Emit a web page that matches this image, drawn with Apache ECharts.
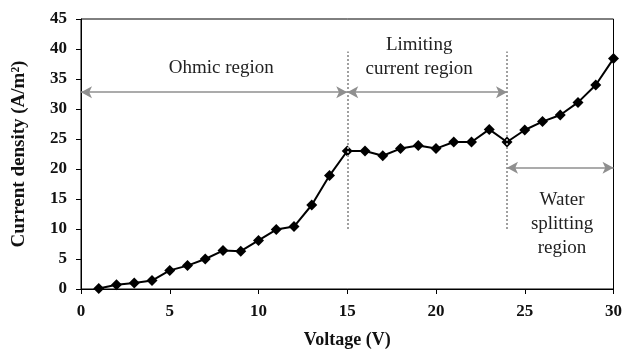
<!DOCTYPE html>
<html><head><meta charset="utf-8">
<script src="https://cdn.jsdelivr.net/npm/echarts@6/dist/echarts.min.js"></script>
<style>html,body{margin:0;padding:0;background:#fff}#c{width:625px;height:354px}</style>
</head><body><div id="c"></div>
<script>
var voltage = [1,2,3,4,5,6,7,8,9,10,11,12,13,14,15,16,17,18,19,20,21,22,23,24,25,26,27,28,29,30];
var current = [0.1,0.7,1.0,1.4,3.1,3.9,5.0,6.4,6.3,8.1,9.9,10.4,14.0,18.9,23.0,23.0,22.2,23.4,23.9,23.4,24.5,24.5,26.6,24.5,26.5,27.9,29.0,31.1,34.0,38.4];
var xTicks = [0,5,10,15,20,25,30];
var yTicks = [0,5,10,15,20,25,30,35,40,45];
var boundaries = [15, 24];
var boundaryRange = [10, 39.6];
var arrows = [[0,15,32.8],[15,24,32.8],[24,30,20.2]];
var notes = [
  {text:'Ohmic region', x:7.9, y:36.8},
  {text:'Limiting\ncurrent region', x:19.05, y:38.6},
  {text:'Water\nsplitting\nregion', x:27.1, y:10.9}
];

var serif = '"Liberation Serif","Times New Roman",serif';
var chart = echarts.init(document.getElementById('c'), null, {renderer:'canvas'});

var markLines = [];
boundaries.forEach(function(b){
  markLines.push([{coord:[b,boundaryRange[0]], symbol:'none', lineStyle:{type:[2,2],color:'#a0a0a0',width:2}},
                  {coord:[b,boundaryRange[1]], symbol:'none'}]);
});
arrows.forEach(function(a){
  markLines.push([{coord:[a[0],a[2]], lineStyle:{type:'solid',color:'#8f8f8f',width:1.5}},{coord:[a[1],a[2]]}]);
});

chart.setOption({
  animation:false,
  grid:{left:81,right:10,top:19,bottom:61,show:true,borderColor:'#000',borderWidth:1},
  xAxis:{type:'value',min:0,max:30,interval:5,
    name:'Voltage (V)',nameLocation:'middle',nameGap:42,
    nameTextStyle:{fontFamily:serif,fontWeight:'bold',fontSize:18,color:'#111'},
    axisLine:{lineStyle:{color:'#000',width:1}},
    axisTick:{show:true,length:5,lineStyle:{color:'#000'}},
    axisLabel:{fontFamily:serif,fontWeight:'bold',fontSize:17,color:'#111',margin:14,
      formatter:function(v){return xTicks.indexOf(v)>=0?String(v):'';}},
    splitLine:{show:false}},
  yAxis:{type:'value',min:0,max:45,interval:5,
    name:'Current density (A/m²)',nameLocation:'middle',nameGap:52,nameRotate:90,
    nameTextStyle:{fontFamily:serif,fontWeight:'bold',fontSize:19,color:'#111'},
    axisLine:{show:true,lineStyle:{color:'#000',width:1}},
    axisTick:{show:true,length:5,lineStyle:{color:'#000'}},
    axisLabel:{fontFamily:serif,fontWeight:'bold',fontSize:17,color:'#111',margin:14,
      formatter:function(v){return yTicks.indexOf(v)>=0?String(v):'';}},
    splitLine:{show:false}},
  series:[
    {type:'line',data:voltage.map(function(v,i){return [v,current[i]];}),
      symbol:'diamond',symbolSize:11,showAllSymbol:true,
      lineStyle:{color:'#000',width:2},itemStyle:{color:'#000'},z:3},
    {type:'scatter',data:[],z:5,silent:true,
      markLine:{silent:true,symbol:['arrow','arrow'],symbolSize:[9,11],label:{show:false},
        data:markLines,animation:false},
      markPoint:{silent:true,symbol:'circle',symbolSize:0,
        label:{show:true,position:'inside',fontFamily:serif,fontSize:19,color:'#222',lineHeight:24,align:'center'},
        data:notes.map(function(n){return {coord:[n.x,n.y],value:0,label:{formatter:n.text}};})}
    }
  ]
});
</script></body></html>
